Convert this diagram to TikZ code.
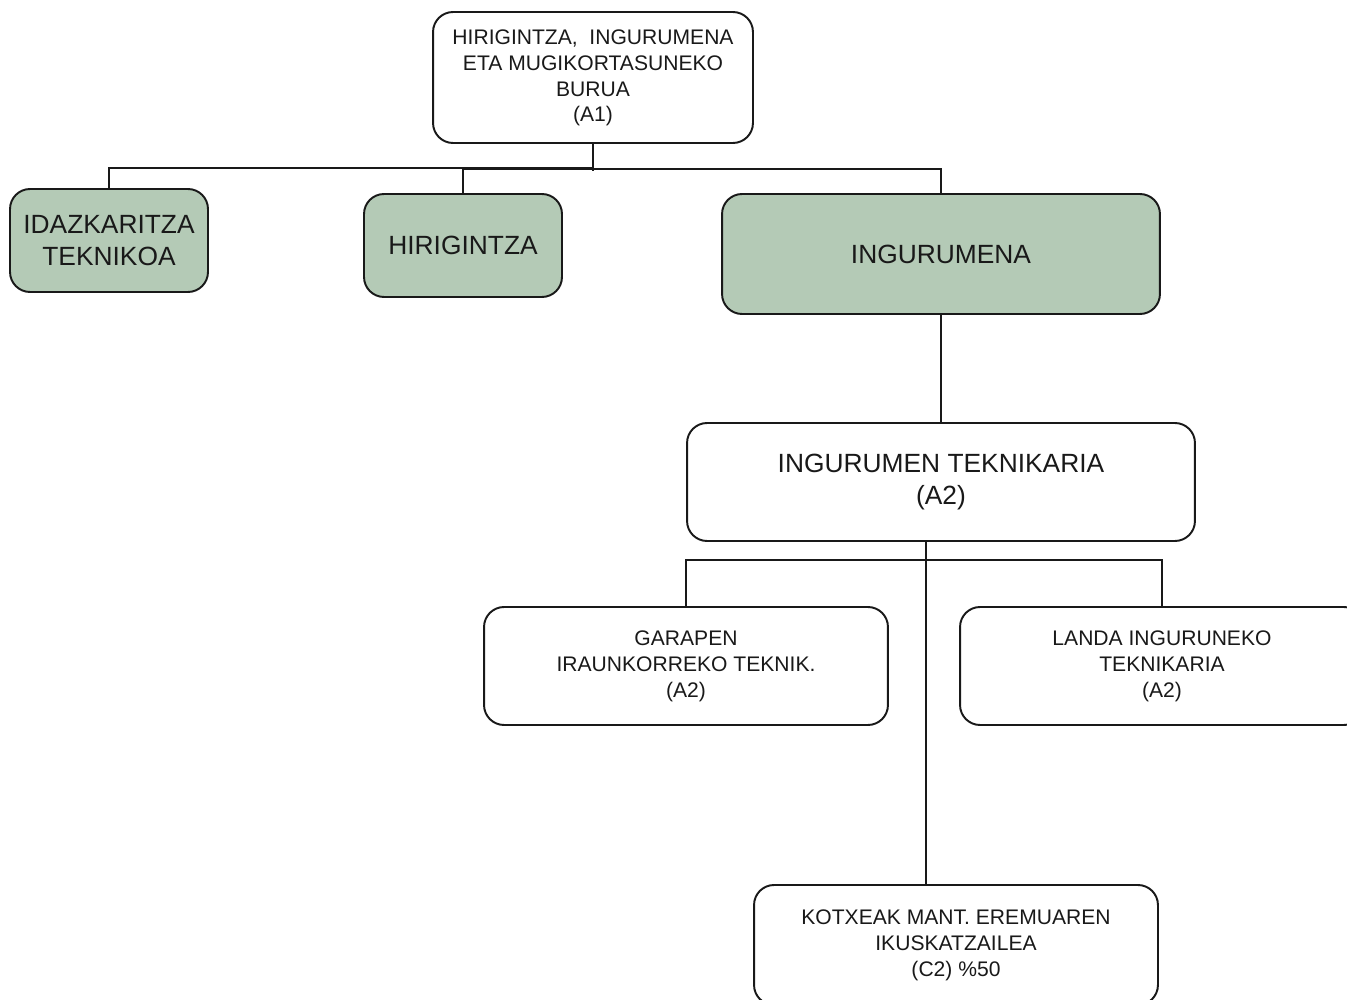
\documentclass[tikz,border=0pt]{standalone}
\usepackage{fontspec}
\setmainfont{Liberation Sans}
\definecolor{sage}{RGB}{180,202,182}
\definecolor{ink}{RGB}{25,25,25}
\begin{document}
\begin{tikzpicture}[x=0.02cm,y=-0.02cm,
  box/.style={draw=ink,line width=1.1pt,rounded corners=0.4cm,align=center,inner sep=0pt,text=ink},
  gbox/.style={box,fill=sage},
  small/.style={font=\fontsize{12}{14.7}\selectfont},
  big/.style={font=\fontsize{15}{17.8}\selectfont},
  conn/.style={draw=ink,line width=1pt}]
\useasboundingbox (0,0) rectangle (1347,1000);
\clip (0,0) rectangle (1347,1000);
\node[box,small,minimum width=6.4cm,minimum height=2.62cm,text depth=2pt] (a1) at (593,77.5)
  {HIRIGINTZA,\ \ INGURUMENA\\ETA MUGIKORTASUNEKO\\BURUA\\(A1)};
\node[gbox,big,minimum width=3.96cm,minimum height=2.06cm] (idaz) at (109,240.5)
  {IDAZKARITZA\\TEKNIKOA};
\node[gbox,big,minimum width=3.96cm,minimum height=2.06cm] (hiri) at (463,245.5)
  {HIRIGINTZA};
\node[gbox,big,minimum width=8.76cm,minimum height=2.4cm] (ingur) at (941,254)
  {INGURUMENA};
\node[box,big,minimum width=10.16cm,minimum height=2.36cm] (tek) at (941,482)
  {INGURUMEN TEKNIKARIA\\(A2)};
\node[box,small,minimum width=8.08cm,minimum height=2.36cm] (gar) at (686,666)
  {GARAPEN\\IRAUNKORREKO TEKNIK.\\(A2)};
\node[box,small,minimum width=8.08cm,minimum height=2.36cm] (landa) at (1162,666)
  {LANDA INGURUNEKO\\TEKNIKARIA\\(A2)};
\node[box,small,minimum width=8.08cm,minimum height=2.4cm] (kot) at (956,945)
  {KOTXEAK MANT. EREMUAREN\\IKUSKATZAILEA\\(C2) \%50};
\coordinate (tkdrop) at (926,0);
% connectors
\draw[conn] (a1.south) -- ++(0,27);
\draw[conn] (a1.south) ++(0,24) -| (idaz.north);
\draw[conn] (hiri.north) -- ++(0,-24) -| (ingur.north);
\draw[conn] (ingur.south) -- (tek.north);
\draw[conn] (tek.south -| tkdrop) -- (kot.north -| tkdrop);
\draw[conn] (gar.north) -- ++(0,-46) -| (landa.north);
\end{tikzpicture}
\end{document}
